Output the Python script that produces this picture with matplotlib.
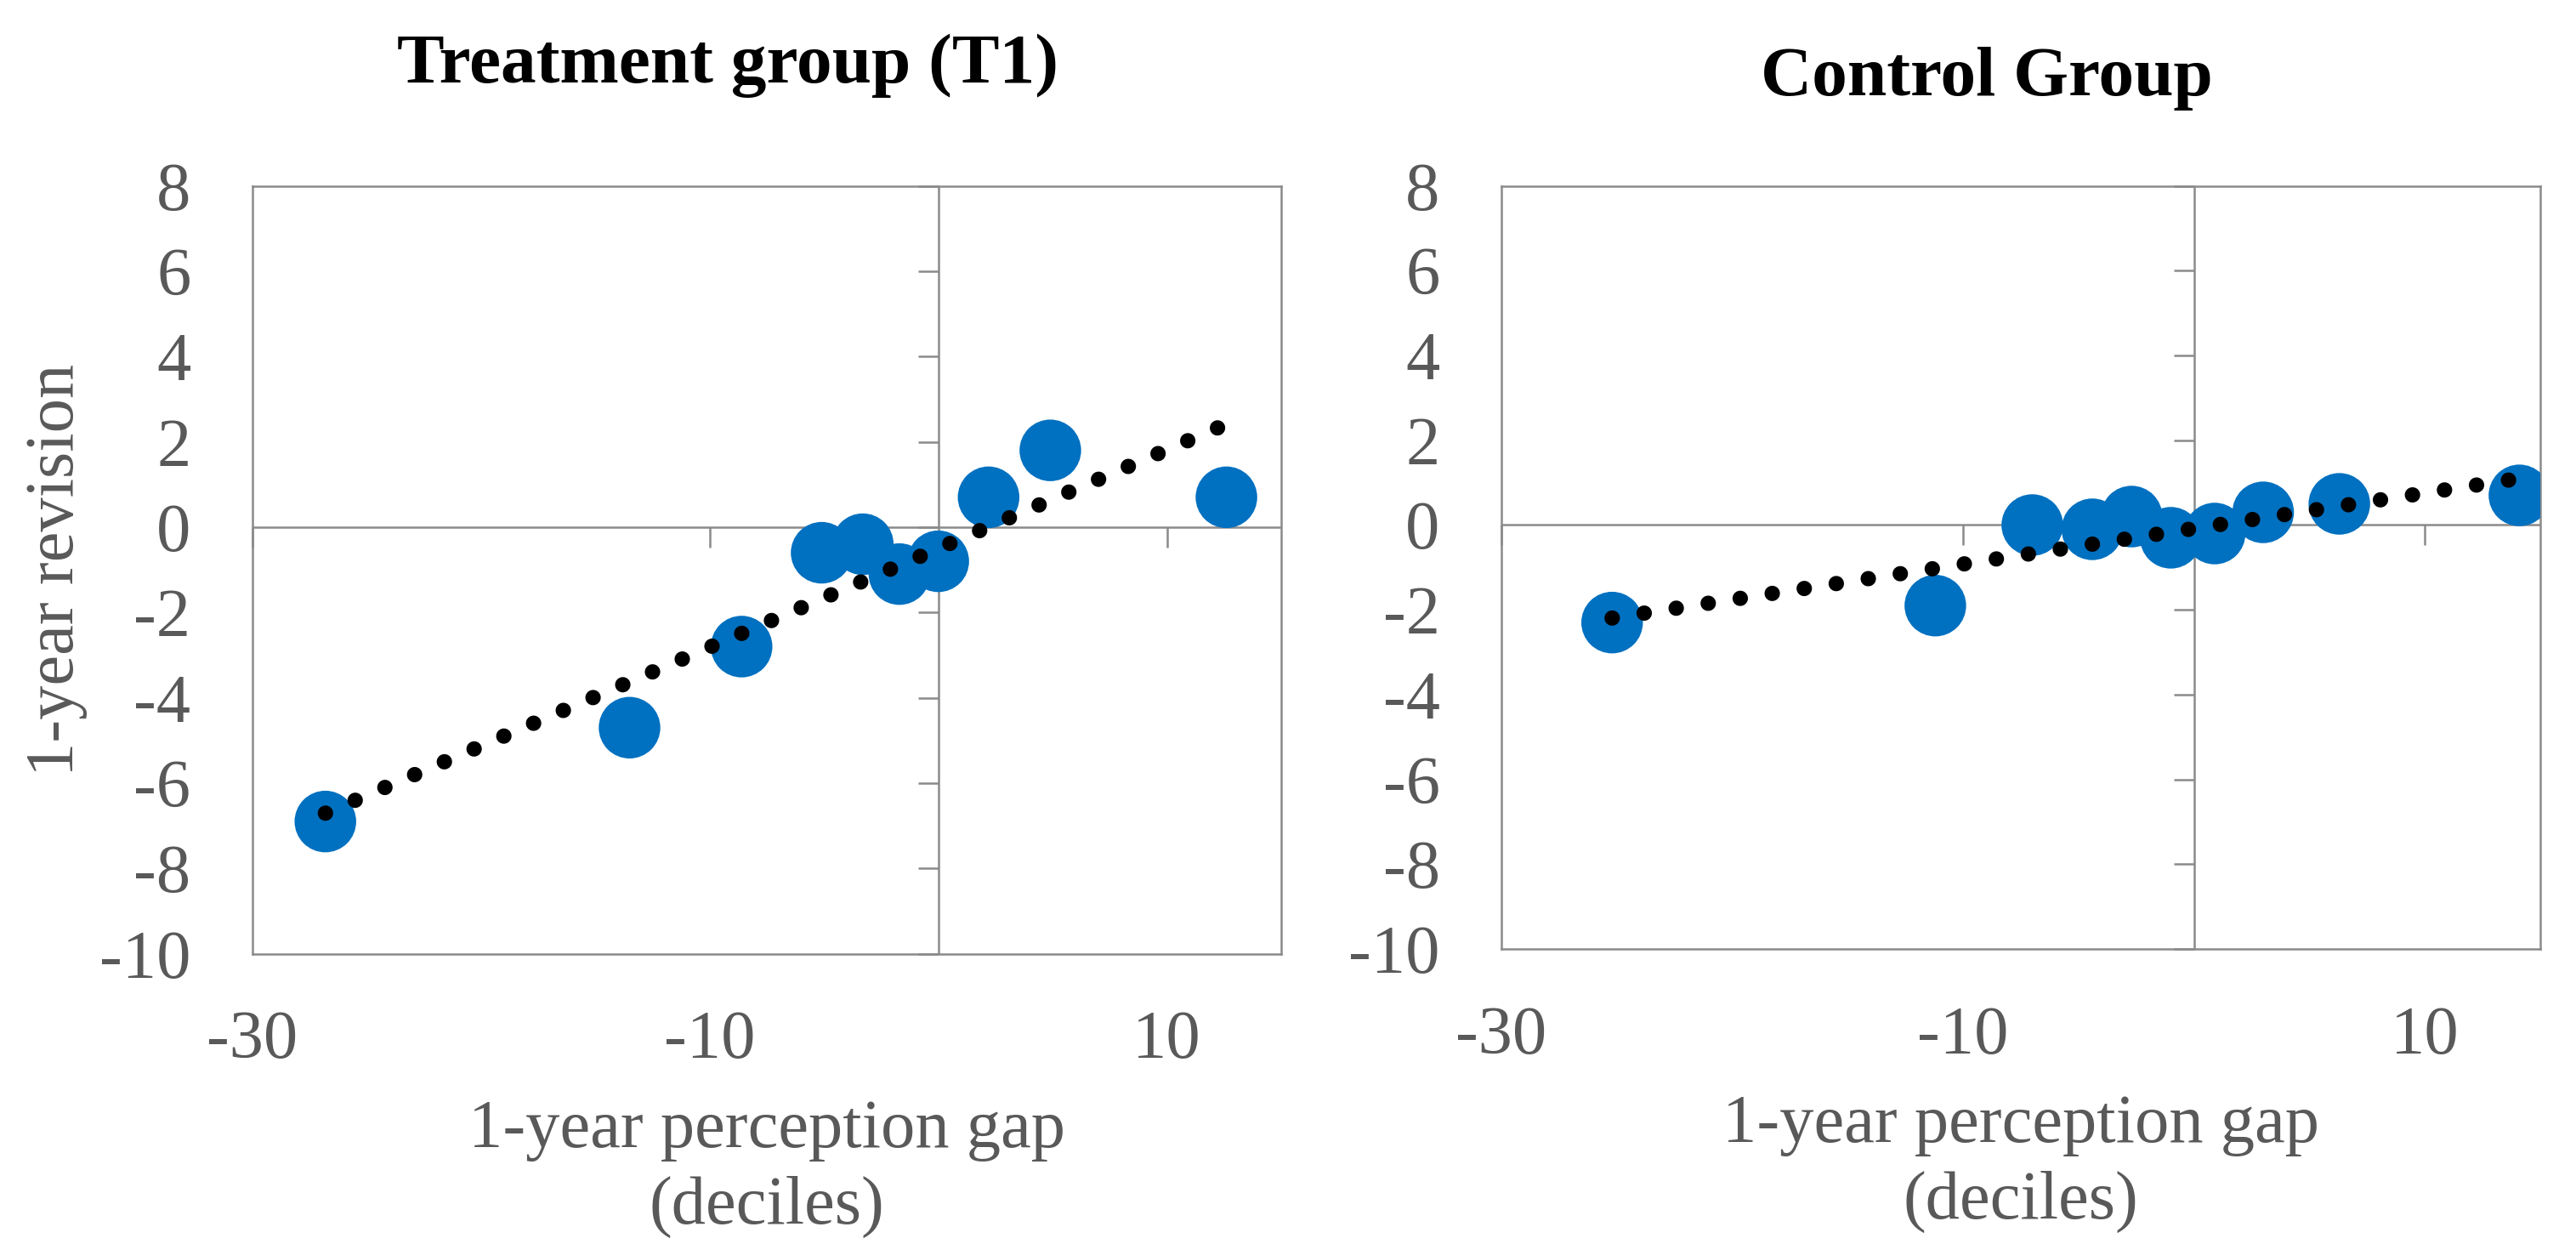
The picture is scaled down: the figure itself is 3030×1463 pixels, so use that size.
import numpy as np
import matplotlib
matplotlib.use("Agg")
import matplotlib.pyplot as plt

# data
t1_gap = [-26.8, -13.5, -8.6, -5.1, -3.3, -1.7, 0.0, 2.2, 4.9, 12.6]
t1_rev = [-6.9, -4.7, -2.8, -0.6, -0.4, -1.1, -0.8, 0.7, 1.8, 0.7]
ctrl_gap = [-25.2, -11.2, -7.0, -4.4, -2.7, -1.0, 0.9, 3.0, 6.3, 14.1]
ctrl_rev = [-2.3, -1.9, 0.0, -0.1, 0.2, -0.3, -0.2, 0.3, 0.5, 0.7]

titles = ["Treatment group (T1)", "Control Group"]
xticks = [-30, -10, 10]
yticks = [-10, -8, -6, -4, -2, 0, 2, 4, 6, 8]

plt.rcParams['font.family'] = ['Liberation Serif', 'DejaVu Serif']
plt.rcParams['axes.unicode_minus'] = False
grey_txt = '#595959'
grey_ln = '#8a8a8a'
blue = '#0070C0'

fig = plt.figure(figsize=(15.15, 7.315), dpi=200)
ax1 = fig.add_axes([0.0979, 0.2333, 0.3995, 0.6173])
ax2 = fig.add_axes([0.5828, 0.2371, 0.4033, 0.6135])

panels = [(ax1, t1_gap, t1_rev, 0.462, 1.1345), (ax2, ctrl_gap, ctrl_rev, 0.467, 1.1186)]
for i, (ax, gx, gy, tx, ty) in enumerate(panels):
    ax.set_xlim(-30, 15)
    ax.set_ylim(-10, 8)
    for s in ax.spines.values():
        s.set_color(grey_ln)
        s.set_linewidth(0.9)
    ax.axhline(0, color=grey_ln, lw=0.9, zorder=1)
    ax.axvline(0, color=grey_ln, lw=0.9, zorder=1)
    # tick marks sit on the zero lines (excel style), labels stay low
    ax.plot(np.zeros(len(yticks)), yticks, ls='none', marker=0, ms=8.6,
            mew=0.9, color=grey_ln, clip_on=False, zorder=1)
    ax.plot(xticks, np.zeros(len(xticks)), ls='none', marker=3, ms=8.6,
            mew=0.9, color=grey_ln, clip_on=False, zorder=1)
    ax.set_xticks(xticks)
    ax.set_yticks(yticks)
    ax.tick_params(length=0, labelsize=29, colors=grey_txt)
    ax.tick_params(axis='y', pad=26)
    ax.tick_params(axis='x', pad=24)

    ax.scatter(gx, gy, s=680, color=blue, edgecolors='none', zorder=3)
    b, a = np.polyfit(gx, gy, 1)
    xs = np.array([min(gx), max(gx)])
    ax.plot(xs, a + b * xs, color='black', lw=6.5, ls=(0, (0.01, 2.1)),
            dash_capstyle='round', zorder=4)

    ax.text(tx, ty, titles[i], transform=ax.transAxes, ha='center',
            va='baseline', fontsize=30, fontweight='bold', color='black')
    ax.text(0.5, -0.19, "1-year perception gap\n(deciles)", transform=ax.transAxes,
            ha='center', va='top', fontsize=29, color=grey_txt, linespacing=1.3)

fig.text(0.022, 0.542, "1-year revision", rotation=90, ha='center', va='center',
         fontsize=29, color=grey_txt)

fig.savefig('out.png', dpi=200)
